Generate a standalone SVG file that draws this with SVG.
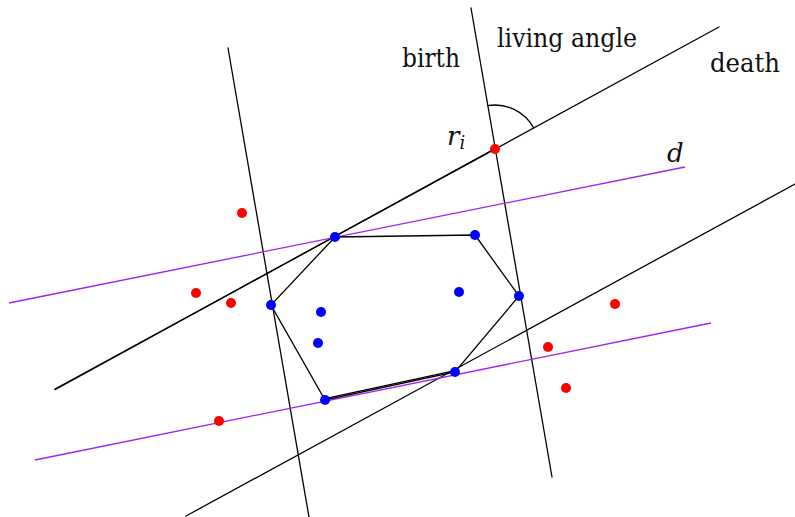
<svg xmlns="http://www.w3.org/2000/svg" width="795" height="517" viewBox="0 0 795 517">
<style>
.ln{stroke:#000;stroke-width:1.3;fill:none;stroke-linecap:round}
.pl{stroke:#a020f0;stroke-width:1.3;fill:none}
.b{fill:#0000ff}
.r{fill:#ff0000}
</style>
<rect width="795" height="517" fill="#fff"/>
<g id="connectors">
<line class="ln" x1="228" y1="48" x2="309" y2="517"/>
<line class="ln" x1="471" y1="8" x2="552" y2="477"/>
<line class="ln" x1="55" y1="389" x2="719" y2="27"/>
<line class="ln" x1="55" y1="389.8" x2="495" y2="148.6"/>
<line class="ln" x1="186" y1="516" x2="795" y2="184"/>
<line class="pl" x1="9" y1="303" x2="685" y2="167"/>
<line class="pl" x1="35" y1="460" x2="711" y2="323"/>
<polyline class="ln" points="335,237 475,235 519,296 455,372 325,400 271,305 335,237"/>
<line class="ln" x1="455" y1="370.6" x2="325" y2="398.6" stroke-width="1"/>
<path class="ln" d="M487.5,105.7 A44,44 0 0 1 533.6,127.9"/>
</g>
<g id="hull-points">
<circle class="b" cx="335" cy="237" r="5"/>
<circle class="b" cx="475" cy="235" r="5"/>
<circle class="b" cx="519" cy="296" r="5"/>
<circle class="b" cx="455" cy="372" r="5"/>
<circle class="b" cx="325" cy="400" r="5"/>
<circle class="b" cx="271" cy="305" r="5"/>
</g>
<g id="inner-points">
<circle class="b" cx="321" cy="312" r="5"/>
<circle class="b" cx="318" cy="343" r="5"/>
<circle class="b" cx="459" cy="292" r="5"/>
</g>
<g id="red-points">
<circle class="r" cx="495" cy="149" r="5"/>
<circle class="r" cx="242" cy="213" r="5"/>
<circle class="r" cx="196" cy="293" r="5"/>
<circle class="r" cx="231" cy="303" r="5"/>
<circle class="r" cx="615" cy="304" r="5"/>
<circle class="r" cx="548" cy="347" r="5"/>
<circle class="r" cx="566" cy="388" r="5"/>
<circle class="r" cx="219" cy="421" r="5"/>
</g>
<g id="labels" font-family="'DejaVu Serif', 'Liberation Serif', serif" fill="#111">
<text x="402" y="66.5" font-size="26" textLength="58" lengthAdjust="spacingAndGlyphs">birth</text>
<text x="497" y="46.5" font-size="26" textLength="140" lengthAdjust="spacingAndGlyphs">living angle</text>
<text x="710" y="71.5" font-size="26" textLength="70" lengthAdjust="spacingAndGlyphs">death</text>
<text x="447" y="145" font-size="26" font-style="italic">r<tspan font-size="18" dy="4">i</tspan></text>
<text x="667" y="161.5" font-size="26" font-style="italic">d</text>
</g>
</svg>
